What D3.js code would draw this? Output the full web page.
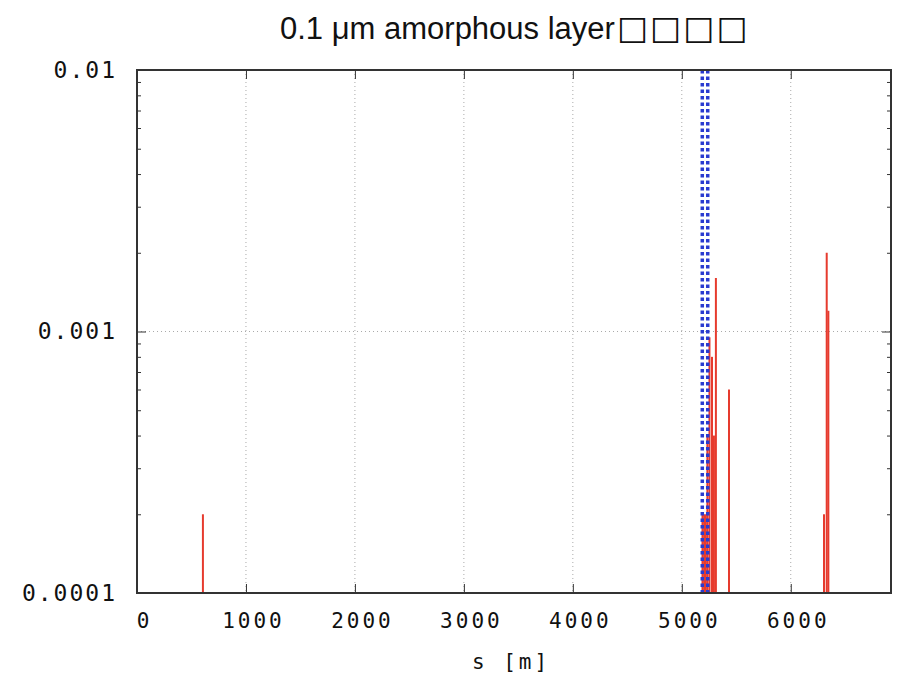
<!DOCTYPE html>
<html>
<head>
<meta charset="utf-8">
<script src="https://cdn.jsdelivr.net/npm/d3@7"></script>
<style>
  body { margin: 0; background: #fff; }
  .tick text { font-family: "DejaVu Sans Mono", monospace; fill: #111; }
  .domain { display: none; }
</style>
</head>
<body>
<div id="chart"></div>
<script>
// impulse positions along s [m] and their values
const sPositions = [605, 5190, 5205, 5220, 5235, 5254, 5277, 5295, 5313, 5433, 6305, 6330, 6345];
const lossValues = [0.0002, 0.0002, 0.0002, 0.0002, 0.0004, 0.00095, 0.0008, 0.0004, 0.0016, 0.0006, 0.0002, 0.002, 0.0012];
// blue dotted markers
const markerPositions = [5188, 5238];
const xTicks = [0, 1000, 2000, 3000, 4000, 5000, 6000];
const yTicks = [0.0001, 0.001, 0.01];
const yTickLabels = ["0.0001", "0.001", "0.01"];
const titleText = "0.1 \u03bcm amorphous layer";
const titleTail = "\u25a1\u25a1\u25a1\u25a1";
const xTitle = "s [m]";

const W = 898, H = 676;
const margin = {top: 70, right: 7, bottom: 83, left: 137};
const width = W - margin.left - margin.right;
const height = H - margin.top - margin.bottom;

const svg = d3.select("#chart").append("svg")
    .attr("width", W)
    .attr("height", H);

const g = svg.append("g")
    .attr("transform", "translate(" + margin.left + "," + margin.top + ")");

const x = d3.scaleLinear().domain([0, 6920]).range([0, width]);
const y = d3.scaleLog().domain([0.0001, 0.01]).range([height, 0]);

// grid
g.append("g").selectAll("line.vg")
    .data(xTicks.filter(d => d > 0))
    .enter().append("line")
    .attr("x1", d => x(d)).attr("x2", d => x(d))
    .attr("y1", 0).attr("y2", height)
    .attr("stroke", "#aaa").attr("stroke-width", 1)
    .attr("stroke-dasharray", "1,3");
g.append("g").selectAll("line.hg")
    .data(yTicks.slice(1, -1))
    .enter().append("line")
    .attr("x1", 0).attr("x2", width)
    .attr("y1", d => y(d)).attr("y2", d => y(d))
    .attr("stroke", "#aaa").attr("stroke-width", 1)
    .attr("stroke-dasharray", "1,3");

// red impulses
const bars = sPositions.map((s, i) => ({s: s, v: lossValues[i]}));
g.append("g").selectAll("line.bar")
    .data(bars)
    .enter().append("line")
    .attr("x1", d => x(d.s)).attr("x2", d => x(d.s))
    .attr("y1", height).attr("y2", d => y(d.v))
    .attr("stroke", "#e63b2e").attr("stroke-width", 2);

// blue dotted markers
g.append("g").selectAll("line.mark")
    .data(markerPositions)
    .enter().append("line")
    .attr("x1", d => x(d)).attr("x2", d => x(d))
    .attr("y1", 0).attr("y2", height)
    .attr("stroke", "#2a3bd0").attr("stroke-width", 3.5)
    .attr("stroke-dasharray", "3.5,3");

// axes
const xAxis = g.append("g")
    .attr("transform", "translate(0," + height + ")")
    .call(d3.axisBottom(x).tickValues(xTicks).tickSizeInner(-9).tickSizeOuter(0).tickPadding(20).tickFormat(d3.format("d")));
xAxis.selectAll("text").attr("font-size", 21).attr("letter-spacing", 3).attr("dx", 7);
xAxis.selectAll("line").attr("stroke", "#333");

g.append("g")
    .call(d3.axisTop(x).tickValues(xTicks).tickSizeInner(-9).tickSizeOuter(0).tickFormat(""))
    .selectAll("line").attr("stroke", "#333");

const minorTicks = [];
[0.0001, 0.001].forEach(base => {
    for (let k = 2; k <= 9; k++) minorTicks.push(base * k);
});

const yAxis = g.append("g")
    .call(d3.axisLeft(y).tickValues(yTicks).tickSizeInner(-9).tickSizeOuter(0).tickPadding(20)
        .tickFormat((d, i) => yTickLabels[i]));
yAxis.selectAll("text").attr("font-size", 23).attr("letter-spacing", 2);
yAxis.selectAll("line").attr("stroke", "#333");

g.append("g")
    .call(d3.axisLeft(y).tickValues(minorTicks).tickSizeInner(-4).tickSizeOuter(0).tickFormat(""))
    .selectAll("line").attr("stroke", "#333");
g.append("g")
    .attr("transform", "translate(" + width + ",0)")
    .call(d3.axisRight(y).tickValues(yTicks).tickSizeInner(-9).tickSizeOuter(0).tickFormat(""))
    .selectAll("line").attr("stroke", "#333");
g.append("g")
    .attr("transform", "translate(" + width + ",0)")
    .call(d3.axisRight(y).tickValues(minorTicks).tickSizeInner(-4).tickSizeOuter(0).tickFormat(""))
    .selectAll("line").attr("stroke", "#333");

// frame
g.append("rect")
    .attr("width", width).attr("height", height)
    .attr("fill", "none").attr("stroke", "#333").attr("stroke-width", 2);

// titles
const title = svg.append("text")
    .attr("x", 280).attr("y", 39)
    .attr("font-family", "Liberation Sans, Arial, sans-serif")
    .attr("font-size", 31)
    .attr("fill", "#111");
title.append("tspan").text(titleText);
title.append("tspan")
    .attr("font-family", "DejaVu Sans, sans-serif")
    .attr("font-size", 33)
    .attr("letter-spacing", 2)
    .attr("dx", 2)
    .text(titleTail);

svg.append("text")
    .attr("x", margin.left + width / 2 - 3).attr("y", 669)
    .attr("text-anchor", "middle")
    .attr("font-family", "DejaVu Sans Mono, monospace")
    .attr("font-size", 21)
    .attr("letter-spacing", 3)
    .attr("fill", "#111")
    .text(xTitle);
</script>
</body>
</html>
